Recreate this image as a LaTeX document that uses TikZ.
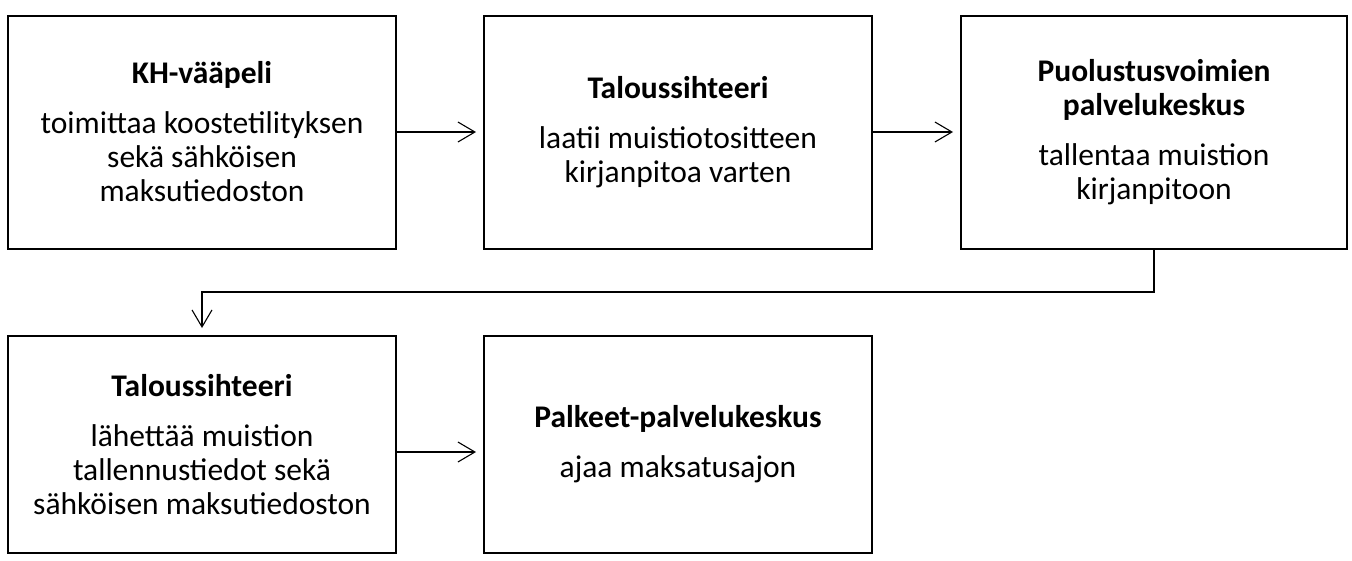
\documentclass[tikz,border=0pt]{standalone}
\usepackage{fontspec}
\setmainfont{Carlito}
\usetikzlibrary{arrows.meta}
\begin{document}
\begin{tikzpicture}[x=1pt, y=-1pt,
                    pnode/.style = {shape = rectangle,
                                    color = black,
                                    line width = 2pt,
                                    inner sep = 0pt,
                                    minimum width = 388pt,
                                    align = center,
                                    font = \fontsize{31.5}{34}\selectfont,
                                    draw},
                    parrow/.style = {line width = 1.1pt,
                                     -{Straight Barb[length=17pt, width=20pt]},
                                     shorten > = 7pt}]
		\useasboundingbox (0,0) rectangle (1352,560);
		\node[pnode, minimum height = 233pt] (1) at (202,132)
			{\textbf{KH-vääpeli}\\[16pt]toimittaa koostetilityksen\\sekä sähköisen\\maksutiedoston};
		\node[pnode, minimum height = 233pt] (2) at (678,132)
			{\textbf{Taloussihteeri}\\[16pt]laatii muistiotositteen\\kirjanpitoa varten};
		\node[pnode, minimum height = 233pt, minimum width = 386pt] (3) at (1154,132)
			{\textbf{Puolustusvoimien}\\\textbf{palvelukeskus}\\[16pt]tallentaa muistion\\kirjanpitoon};
		\node[pnode, minimum height = 217pt] (4) at (202,444.5)
			{\textbf{Taloussihteeri}\\[16pt]lähettää muistion\\tallennustiedot sekä\\sähköisen maksutiedoston};
		\node[pnode, minimum height = 217pt] (5) at (678,444.5)
			{\textbf{Palkeet-palvelukeskus}\\[16pt]ajaa maksatusajon};
		\coordinate (bend) at (1154,292);
		\draw[parrow] (1) -- (2);
		\draw[parrow] (2) -- (3);
		\draw[parrow] (3.south) -- (bend) -| (4.north);
		\draw[parrow] ([yshift=-7.5pt]4.east) -- ([yshift=-7.5pt]4.east -| 5.west);
	\end{tikzpicture}
\end{document}
